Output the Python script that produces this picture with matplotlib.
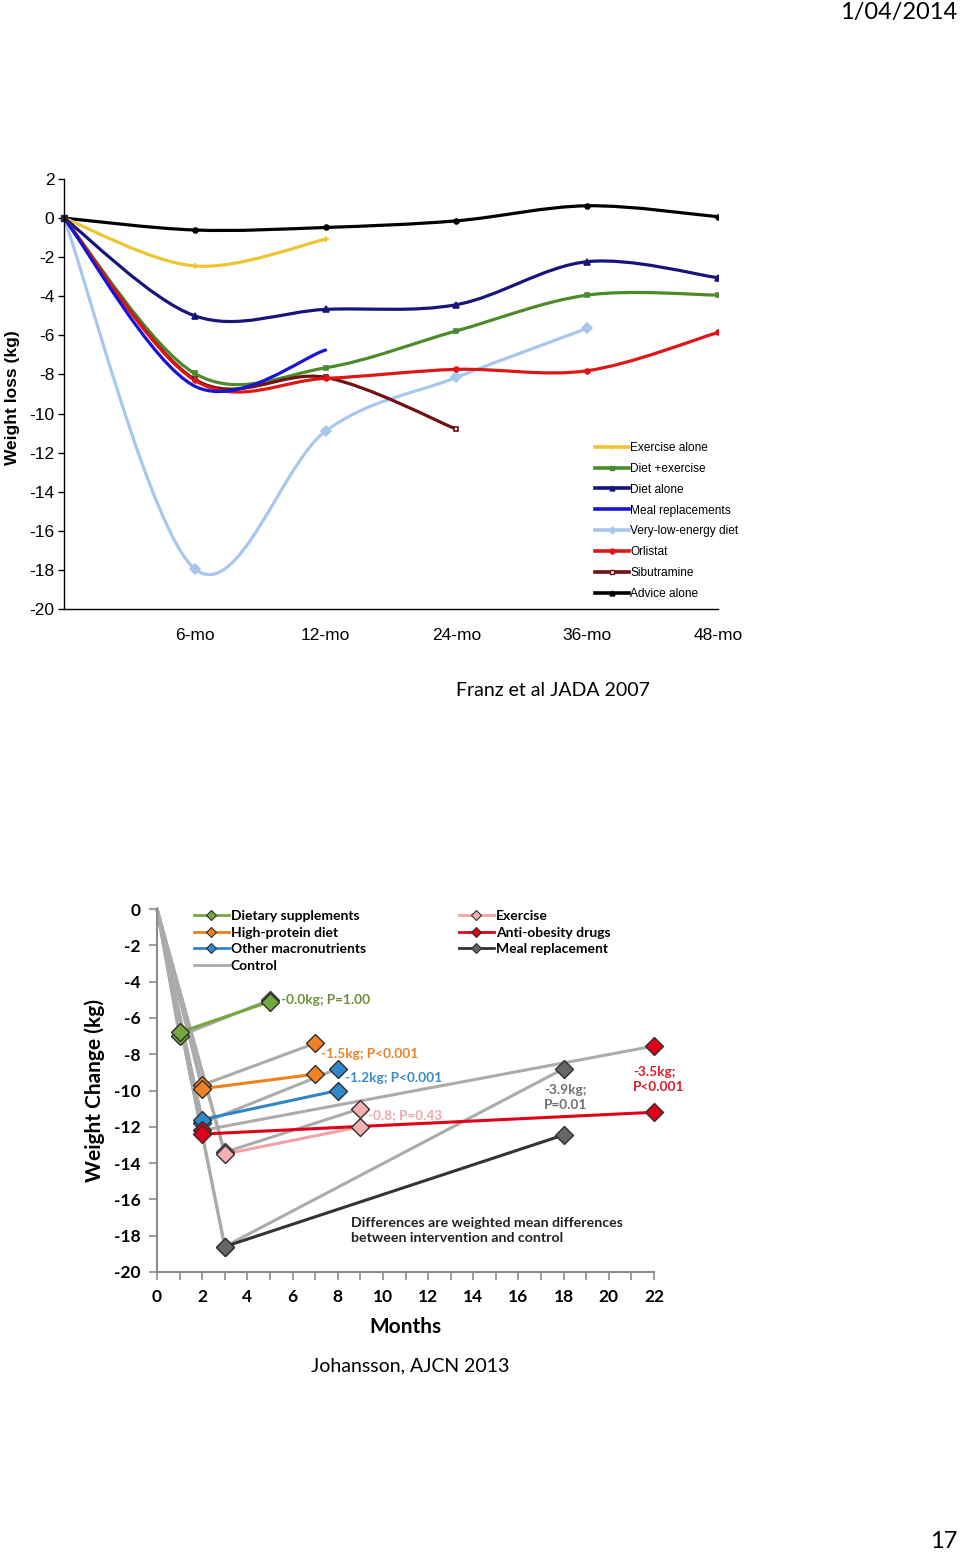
import numpy as np
import matplotlib
matplotlib.use('Agg')
import matplotlib.pyplot as plt
from matplotlib.path import Path
from matplotlib.patches import PathPatch
from matplotlib.lines import Line2D

# ---------------- Top chart data (Franz et al JADA 2007) ----------------
top_xlabels = ['6-mo', '12-mo', '24-mo', '36-mo', '48-mo']
top_yticks = list(range(-20, 3, 2))
exercise_alone = [0, -2.45, -1.08]
diet_exercise = [0, -7.95, -7.66, -5.77, -3.94, -3.94]
diet_alone = [0, -5.0, -4.67, -4.43, -2.23, -3.05]
meal_replacements = [0, -8.6, -6.75]
vled = [0, -17.95, -10.9, -8.15, -5.64]
orlistat = [0, -8.3, -8.2, -7.74, -7.81, -5.85]
sibutramine = [0, -8.25, -8.15, -10.8]
advice_alone = [0, -0.61, -0.48, -0.14, 0.63, 0.07]

top_names = ['Exercise alone', 'Diet +exercise', 'Diet alone', 'Meal replacements',
             'Very-low-energy diet', 'Orlistat', 'Sibutramine', 'Advice alone']

# ---------------- Bottom chart data (Johansson, AJCN 2013) ----------------
bot_names = ['Dietary supplements', 'High-protein diet', 'Other macronutrients',
             'Exercise', 'Anti-obesity drugs', 'Meal replacement']
month_first = [1, 2, 2, 3, 2, 3]
month_last = [5, 7, 8, 9, 22, 18]
interv_first = [-6.8, -9.9, -11.6, -13.5, -12.4, -18.6]
interv_last = [-5.1, -9.1, -10.0, -12.0, -11.2, -12.45]
control_first = [-7.0, -9.7, -11.8, -13.4, -12.2, -18.6]
control_last = [-5.0, -7.4, -8.8, -11.0, -7.55, -8.8]
diff_labels = ['-0.0kg; P=1.00', '-1.5kg; P<0.001', '-1.2kg; P<0.001',
               '-0.8; P=0.43', '-3.5kg;\nP<0.001', '-3.9kg;\nP=0.01']

W, H = 960, 1553
fig = plt.figure(figsize=(W / 100, H / 100), dpi=100)
fig.patch.set_facecolor('white')

NARROW = ['Liberation Sans Narrow', 'Liberation Sans', 'DejaVu Sans']
CAL = ['Lato', 'DejaVu Sans']


def fx(px):
    return px / W


def fy(py):
    return 1 - py / H


def smooth_path(xs, ys):
    P = np.column_stack([xs, ys]).astype(float)
    n = len(P)
    verts = [P[0]]
    codes = [Path.MOVETO]
    for i in range(n - 1):
        p_prev = P[i - 1] if i > 0 else P[i]
        p_next2 = P[i + 2] if i + 2 < n else P[i + 1]
        c1 = P[i] + (P[i + 1] - p_prev) / 6.0
        c2 = P[i + 1] - (p_next2 - P[i]) / 6.0
        verts += [c1, c2, P[i + 1]]
        codes += [Path.CURVE4] * 3
    return Path(verts, codes)


# ---------------- Top axes ----------------
ax1 = fig.add_axes([fx(64), fy(609), fx(718 - 64), (609 - 179) / H])
ax1.set_xlim(0, 5)
ax1.set_ylim(-20, 2)
for s in ['top', 'right']:
    ax1.spines[s].set_visible(False)
for s in ['left', 'bottom']:
    ax1.spines[s].set_linewidth(1.0)
    ax1.spines[s].set_color('black')

top_series = [
    (advice_alone, '#000000', 'o', 3.5, '#000000'),
    (exercise_alone, '#EFC431', '+', 5, '#EFC431'),
    (diet_alone, '#16167A', '^', 5, '#16167A'),
    (vled, '#A8C7EE', 'D', 5, '#A8C7EE'),
    (diet_exercise, '#4C8A2C', 's', 3.5, '#4C8A2C'),
    (sibutramine, '#701212', 's', 3.5, 'white'),
    (orlistat, '#E01616', 'o', 3.5, '#E01616'),
    (meal_replacements, '#1515D6', None, 0, '#1515D6'),
]
for ys, col, mk, ms, mfc in top_series:
    xs = list(range(len(ys)))
    ax1.add_patch(PathPatch(smooth_path(xs, ys), fill=False, edgecolor=col,
                            lw=2.3, capstyle='round', joinstyle='round'))
    if mk:
        ax1.plot(xs[1:], ys[1:], linestyle='none', marker=mk, ms=ms, color=col,
                 mfc=mfc, mec=col, mew=1.2)
ax1.plot([0], [0], marker='s', ms=5, color='#202040', linestyle='none', clip_on=False)

ax1.set_yticks(top_yticks)
ax1.set_yticklabels([str(v) for v in top_yticks], family=NARROW, fontsize=12.5)
ax1.tick_params(axis='y', direction='out', length=4, width=1, pad=3)
ax1.set_xticks([1, 2, 3, 4, 5])
ax1.set_xticklabels(top_xlabels, family=NARROW, fontsize=12.5)
ax1.tick_params(axis='x', length=0, pad=14)
fig.text(fx(13), fy(398), 'Weight loss (kg)', rotation=90, ha='center', va='center',
         family=['Liberation Sans', 'DejaVu Sans'], fontweight='bold', fontsize=12.5)

top_leg_style = [('#EFC431', '+', 'none'), ('#4C8A2C', 's', None), ('#16167A', '^', None),
                 ('#1515D6', None, None), ('#A8C7EE', 'D', None), ('#E01616', 'o', None),
                 ('#701212', 's', 'white'), ('#000000', '^', None)]
handles = []
for (col, mk, mfc) in top_leg_style:
    kw = dict(color=col, lw=2.6)
    if mk:
        kw.update(marker=mk, ms=3.5, mec=col, mfc=(mfc if mfc else col))
    handles.append(Line2D([], [], **kw))
leg1 = ax1.legend(handles, top_names, loc='upper left',
                  bbox_to_anchor=(fx(595), fy(442)), bbox_transform=fig.transFigure,
                  frameon=False, prop={'family': NARROW, 'size': 8.6},
                  handlelength=2.85, handletextpad=0.1, labelspacing=0.74,
                  borderpad=0, borderaxespad=0)

# ---------------- Bottom axes ----------------
ax2 = fig.add_axes([fx(157), fy(1272), fx(654 - 157), (1272 - 909) / H])
ax2.set_xlim(0, 22)
ax2.set_ylim(-20, 0)
for s in ['top', 'right']:
    ax2.spines[s].set_visible(False)
for s in ['left', 'bottom']:
    ax2.spines[s].set_linewidth(1.5)
    ax2.spines[s].set_color('#8C8C8C')

bot_line_cols = ['#77A640', '#F07F1E', '#2F86C6', '#F2A4A4', '#E0001A', '#333333']
bot_face_cols = ['#74A83E', '#F28124', '#2F88CA', '#F4B0B0', '#E0001A', '#666666']
bot_text_cols = ['#6E8E3A', '#E8822A', '#3C8AC8', '#F0A8A8', '#D81E2A', '#707070']
ctrl_col = '#ABABAB'

# gray lines: origin segments and control arms
for i in range(len(bot_names)):
    ax2.plot([0, month_first[i], month_last[i]], [0, control_first[i], control_last[i]],
             color=ctrl_col, lw=2.2, clip_on=False, zorder=2, solid_capstyle='round')
    ax2.plot([0, month_first[i]], [0, interv_first[i]], color=ctrl_col, lw=2.2,
             clip_on=False, zorder=2, solid_capstyle='round')
# intervention arms
for i in range(len(bot_names)):
    ax2.plot([month_first[i], month_last[i]], [interv_first[i], interv_last[i]],
             color=bot_line_cols[i], lw=2.2, zorder=3, clip_on=False)
# markers
for i in range(len(bot_names)):
    ax2.plot([month_first[i], month_last[i], month_first[i], month_last[i]],
             [control_first[i], control_last[i], interv_first[i], interv_last[i]],
             linestyle='none', marker='D', ms=9, mfc=bot_face_cols[i], mec='#303030',
             mew=1.0, zorder=4, clip_on=False)

# difference annotations
label_pos = [(5.49, -5.0), (7.26, -8.0), (8.32, -9.31), (9.34, -11.35),
             (21.06, -9.37), (17.12, -10.36)]
for i, (lx, ly) in enumerate(label_pos):
    ax2.text(lx, ly, diff_labels[i], color=bot_text_cols[i],
             family=CAL, fontweight='bold', fontsize=9.8, ha='left', va='center',
             linespacing=1.3, zorder=5)
ax2.text(8.58, -17.7, 'Differences are weighted mean differences\nbetween intervention and control',
         family=CAL, fontweight='bold', fontsize=10.2, ha='left', va='center',
         linespacing=1.3, color='#222222')

ax2.set_xticks(list(range(0, 23, 2)))
ax2.set_xticks(list(range(1, 23, 2)), minor=True)
ax2.set_xticklabels([str(v) for v in range(0, 23, 2)], family=CAL,
                    fontweight='bold', fontsize=12.5)
ax2.set_yticks(list(range(-20, 1, 2)))
ax2.set_yticklabels([str(v) for v in range(-20, 1, 2)], family=CAL,
                    fontweight='bold', fontsize=12.5)
ax2.tick_params(axis='both', which='both', direction='out', length=6, width=1.2,
                color='#8C8C8C', pad=6)
ax2.set_xlabel('Months', family=CAL, fontweight='bold', fontsize=15, labelpad=9)
fig.text(fx(95), fy(1090), 'Weight Change (kg)', rotation=90, ha='center', va='center',
         family=CAL, fontweight='bold', fontsize=15)

leg_handles_a = []
for i in range(3):
    leg_handles_a.append(Line2D([], [], color=bot_line_cols[i], lw=2, marker='D', ms=5.5,
                                mfc=bot_face_cols[i], mec='#303030', mew=0.8))
leg_handles_a.append(Line2D([], [], color=ctrl_col, lw=2))
leg_a = ax2.legend(leg_handles_a, bot_names[:3] + ['Control'], loc='upper left',
                   bbox_to_anchor=(fx(194), fy(910)), bbox_transform=fig.transFigure,
                   frameon=False, prop={'family': CAL, 'weight': 'bold', 'size': 10},
                   handlelength=2.5, handletextpad=0.15, labelspacing=0.33,
                   borderpad=0, borderaxespad=0)
ax2.add_artist(leg_a)
leg_handles_b = []
for i in range(3, 6):
    leg_handles_b.append(Line2D([], [], color=bot_line_cols[i], lw=2, marker='D', ms=5.5,
                                mfc=bot_face_cols[i], mec='#303030', mew=0.8))
ax2.legend(leg_handles_b, bot_names[3:], loc='upper left',
           bbox_to_anchor=(fx(459), fy(910)), bbox_transform=fig.transFigure,
           frameon=False, prop={'family': CAL, 'weight': 'bold', 'size': 10},
           handlelength=2.5, handletextpad=0.15, labelspacing=0.33,
           borderpad=0, borderaxespad=0)

# ---------------- Slide texts ----------------
fig.text(fx(957), fy(12), '1/04/2014', ha='right', va='center', family=CAL, fontsize=17)
fig.text(fx(553), fy(691), 'Franz et al JADA 2007', ha='center', va='center',
         family=CAL, fontsize=14)
fig.text(fx(410), fy(1366), 'Johansson, AJCN 2013', ha='center', va='center',
         family=CAL, fontsize=14)
fig.text(fx(957), fy(1541), '17', ha='right', va='center', family=CAL, fontsize=17)

fig.savefig('out.png', dpi=100, facecolor='white')
